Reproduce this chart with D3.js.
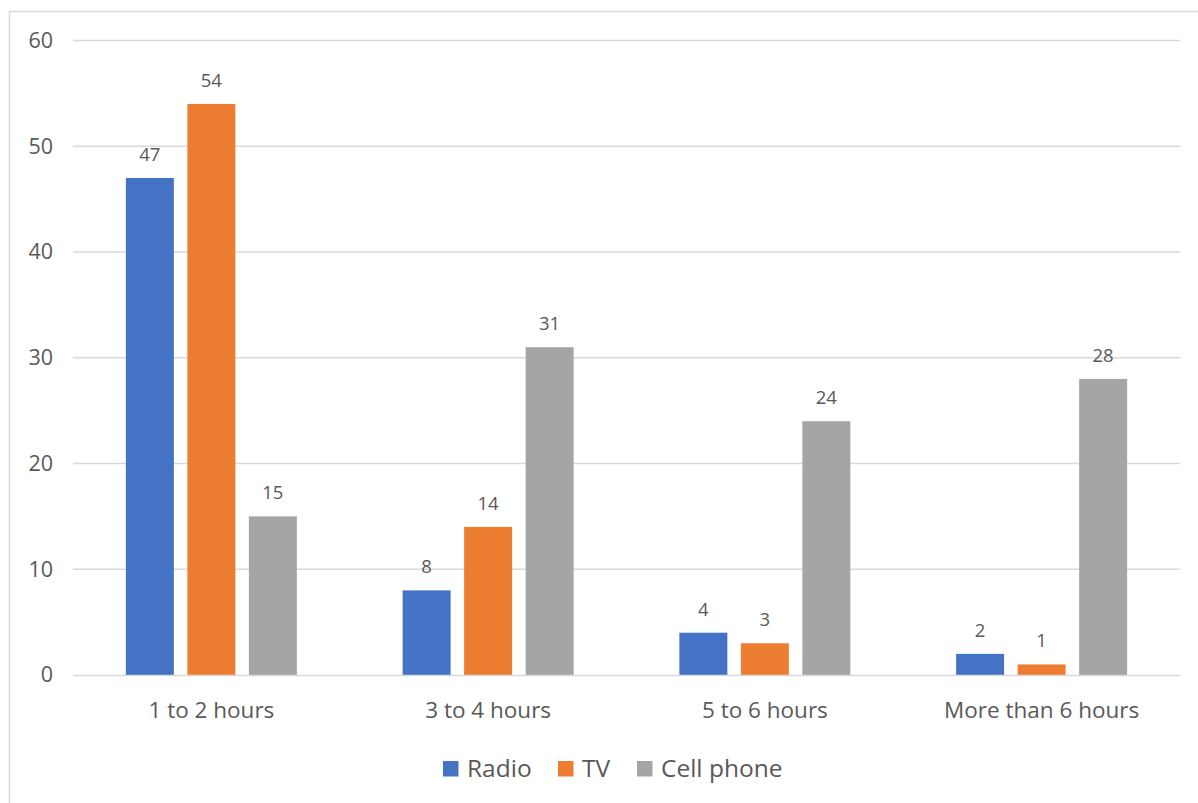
<!DOCTYPE html>
<html>
<head>
<meta charset="utf-8">
<script src="https://cdn.jsdelivr.net/npm/d3@7"></script>
<style>
  html, body { margin: 0; padding: 0; background: #fff; }
  svg { display: block; }
  text { font-family: "Open Sans", "Liberation Sans", sans-serif; fill: #595959; }
</style>
</head>
<body>
<svg id="chart" width="1198" height="803"></svg>
<script>
// Daily time spent with each medium, number of respondents
const categories = ["1 to 2 hours", "3 to 4 hours", "5 to 6 hours", "More than 6 hours"];
const seriesNames = ["Radio", "TV", "Cell phone"];
const radio = [47, 8, 4, 2];
const tv = [54, 14, 3, 1];
const cellPhone = [15, 31, 24, 28];
const yTicks = [0, 10, 20, 30, 40, 50, 60];
const colors = ["#4472C4", "#ED7D31", "#A5A5A5"];

const seriesValues = [radio, tv, cellPhone];
const rows = categories.map((c, i) => ({
  category: c,
  values: seriesNames.map((s, j) => ({ series: s, value: seriesValues[j][i], color: colors[j] }))
}));

const svg = d3.select("#chart");
const W = 1198, H = 803;

// chart frame, running off the right and bottom edges
svg.append("rect")
  .attr("x", 9.5).attr("y", 11.5)
  .attr("width", W).attr("height", H)
  .attr("fill", "none").attr("stroke", "#d9d9d9").attr("stroke-width", 1.5);

const plot = { left: 73, right: 1180, top: 40.5, bottom: 675 };

const x = d3.scaleBand().domain(categories).range([plot.left, plot.right]).paddingInner(0).paddingOuter(0);
const y = d3.scaleLinear().domain([0, 60]).range([plot.bottom, plot.top]);

// gridlines
svg.append("g")
  .selectAll("line")
  .data(yTicks.filter(t => t !== 0))
  .join("line")
  .attr("x1", plot.left).attr("x2", plot.right)
  .attr("y1", d => y(d)).attr("y2", d => y(d))
  .attr("stroke", "#d9d9d9").attr("stroke-width", 1.5);

// y-axis labels
const yAxis = d3.axisLeft(y).tickValues(yTicks).tickSize(0).tickPadding(0);
const yg = svg.append("g").attr("transform", `translate(${plot.left - 20},0)`).call(yAxis);
yg.select(".domain").remove();
yg.selectAll("text")
  .attr("font-size", 21.5).attr("fill", "#595959")
  .style("font-family", '"Open Sans", sans-serif');

// bars: three per category, clustered around the band centre
const half = x.bandwidth() / 2;
const x1 = d3.scaleBand().domain(seriesNames).range([half - 85.5, half + 85.5]).paddingInner(0.22).paddingOuter(0);
const groups = svg.append("g")
  .selectAll("g")
  .data(rows)
  .join("g")
  .attr("transform", d => `translate(${x(d.category)},0)`);

groups.selectAll("rect")
  .data(d => d.values)
  .join("rect")
  .attr("x", d => x1(d.series))
  .attr("width", x1.bandwidth())
  .attr("y", d => y(d.value))
  .attr("height", d => y(0) - y(d.value))
  .attr("fill", d => d.color);

groups.selectAll("text.value")
  .data(d => d.values)
  .join("text")
  .attr("class", "value")
  .attr("x", d => x1(d.series) + x1.bandwidth() / 2)
  .attr("y", d => y(d.value) - 17)
  .attr("text-anchor", "middle")
  .attr("font-size", 18.5)
  .text(d => d.value);

// x axis line and category labels
const xAxis = d3.axisBottom(x).tickSize(0).tickPadding(0);
const xg = svg.append("g").attr("transform", `translate(0,${plot.bottom})`).call(xAxis);
xg.select(".domain").attr("stroke", "#d9d9d9").attr("stroke-width", 1.5);
xg.selectAll("text")
  .attr("dy", 0).attr("y", 43)
  .attr("font-size", 22.5).attr("fill", "#595959")
  .style("font-family", '"Open Sans", sans-serif');

// legend
const legendItems = [
  { name: seriesNames[0], color: colors[0], sx: 443, tx: 467 },
  { name: seriesNames[1], color: colors[1], sx: 558, tx: 582 },
  { name: seriesNames[2], color: colors[2], sx: 637, tx: 661 }
];
const lg = svg.append("g");
lg.selectAll("rect")
  .data(legendItems)
  .join("rect")
  .attr("x", d => d.sx).attr("y", 761)
  .attr("width", 15.5).attr("height", 15.5)
  .attr("fill", d => d.color);
lg.selectAll("text")
  .data(legendItems)
  .join("text")
  .attr("x", d => d.tx).attr("y", 777)
  .attr("font-size", 24.5)
  .text(d => d.name);
</script>
</body>
</html>
